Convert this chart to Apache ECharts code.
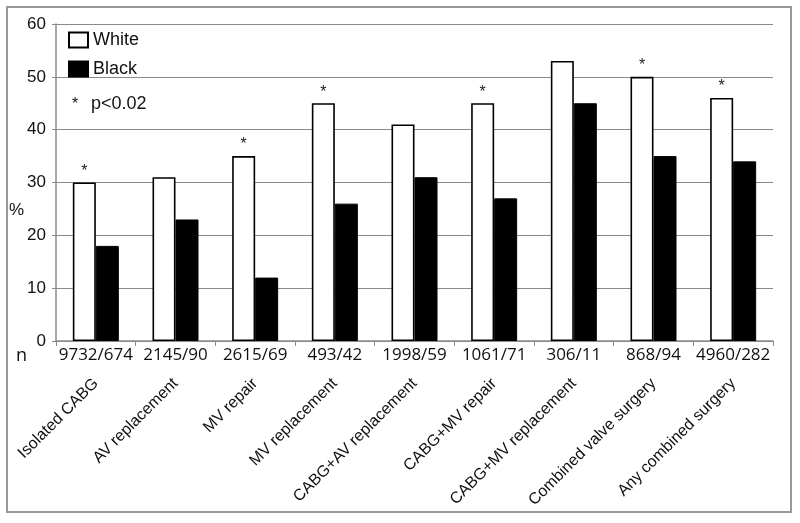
<!DOCTYPE html>
<html><head><meta charset="utf-8">
<script src="https://cdn.jsdelivr.net/npm/echarts@6/dist/echarts.min.js"></script>
<style>html,body{margin:0;padding:0;background:#fff}#c{width:800px;height:523px}</style>
</head><body><div id="c"></div>
<script>
var categories = ['Isolated CABG','AV replacement','MV repair','MV replacement','CABG+AV replacement','CABG+MV repair','CABG+MV replacement','Combined valve surgery','Any combined surgery'];
var nLabels = ['9732/674','2145/90','2615/69','493/42','1998/59','1061/71','306/11','868/94','4960/282'];
var white = [30,31,35,45,41,45,53,50,46];
var black = [18,23,12,26,31,27,45,35,34];
var significant = [true,false,true,true,false,true,false,true,true];
var yTicks = [0,10,20,30,40,50,60];

var chart = echarts.init(document.getElementById('c'), null, {renderer:'canvas'});
var sans = 'Liberation Sans, Arial, sans-serif';
chart.setOption({
  animation:false,
  backgroundColor:'#fff',
  grid:{left:56,right:27,top:24,bottom:182},
  legend:{
    data:['White','Black'], orient:'vertical', left:63, top:26, itemWidth:19, itemHeight:15, itemGap:11,
    textStyle:{fontFamily:sans,fontSize:18,color:'#111'}, icon:'rect'
  },
  graphic:[
    {type:'rect',shape:{x:7,y:7,width:784,height:505},style:{fill:'none',stroke:'#9a9a9a',lineWidth:2},silent:true},
    {type:'text',left:72,top:97,style:{text:'*',font:'16px '+sans,fill:'#111'}},
    {type:'text',left:91,top:95,style:{text:'p<0.02',font:'18px '+sans,fill:'#111'}},
    {type:'text',left:16,top:347,style:{text:'n',font:'18px Open Sans, sans-serif',fill:'#111'}},
    {type:'text',left:9,top:202,style:{text:'%',font:'17px '+sans,fill:'#111'}}
  ],
  xAxis:[
    {type:'category',data:nLabels,position:'bottom',
     axisLine:{lineStyle:{color:'#8a8a8a',width:1.5}},
     axisTick:{show:true,alignWithLabel:false,length:5,lineStyle:{color:'#8a8a8a'}},
     axisLabel:{margin:6,fontFamily:'Open Sans, sans-serif',fontSize:17,color:'#111',interval:0}},
    {type:'category',data:categories,position:'bottom',
     axisLine:{show:false},axisTick:{show:false},
     axisLabel:{rotate:45,margin:40,fontFamily:sans,fontSize:16,color:'#111',interval:0}}
  ],
  yAxis:{type:'value',min:yTicks[0],max:yTicks[yTicks.length-1],interval:10,
    axisLine:{show:true,lineStyle:{color:'#8a8a8a',width:1.5}},
    axisTick:{show:true,length:4,lineStyle:{color:'#8a8a8a'}},
    axisLabel:{margin:10,fontFamily:sans,fontSize:17,color:'#111'},
    splitLine:{lineStyle:{color:'#8a8a8a',width:1.2}}},
  series:[
    {name:'White',type:'bar',data:white,barWidth:23,barGap:'0%',
     itemStyle:{color:'#fff',borderColor:'#000',borderWidth:1.6},
     label:{show:true,position:'top',distance:3,fontSize:16,color:'#222',fontFamily:sans,
       formatter:function(p){return significant[p.dataIndex]?'*':'';}}},
    {name:'Black',type:'bar',data:black,barWidth:23,
     itemStyle:{color:'#000',borderColor:'#000',borderWidth:1}}
  ]
});
</script></body></html>
